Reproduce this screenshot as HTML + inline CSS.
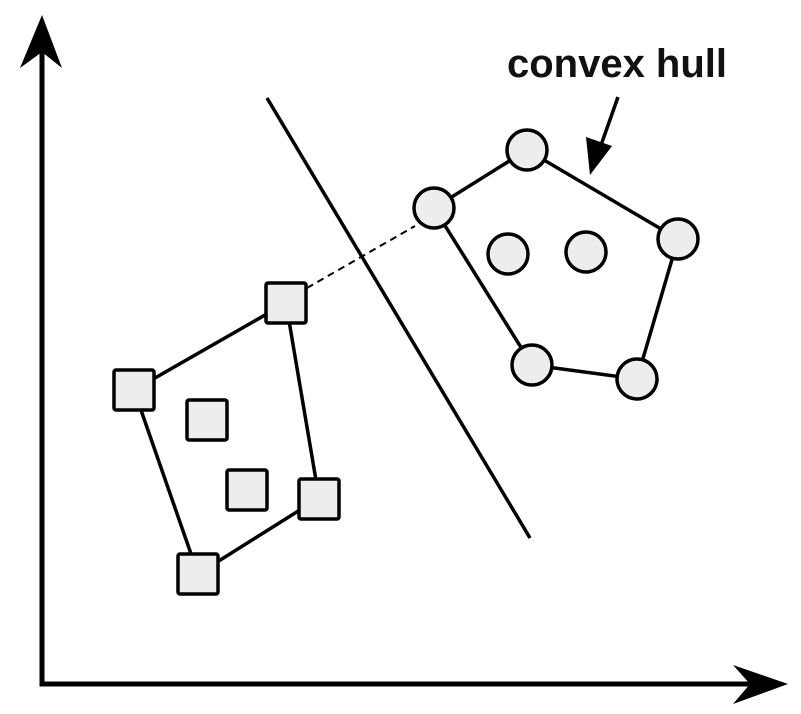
<!DOCTYPE html>
<html><head><meta charset="utf-8"><style>html,body{margin:0;padding:0;background:#fff}svg{display:block}</style></head>
<body>
<svg width="801" height="714" viewBox="0 0 801 714" xmlns="http://www.w3.org/2000/svg">
<g stroke="#000" fill="none" stroke-linecap="butt">
<polyline points="42,50 42,684 755,684" stroke-width="5"/>
<polygon points="42,15 62,68 42,52 20,68" fill="#000" stroke="none"/>
<polygon points="788,684 733,704 750,684 733,665" fill="#000" stroke="none"/>
<line x1="267" y1="98" x2="530" y2="538" stroke-width="3.5"/>
<line x1="307" y1="288" x2="415" y2="226" stroke-width="2" stroke-dasharray="7,5"/>
<line x1="618" y1="97" x2="600" y2="148" stroke-width="3.5"/>
<polygon points="590,175 586,137 612,146" fill="#000" stroke="none"/>
<polygon points="286,303 134,390 198,574 319,498" stroke-width="3.5"/>
<polygon points="527,150 434,208 532,365 637,379 678,239" stroke-width="3.5"/>
</g>
<g fill="#ededed" stroke="#000" stroke-width="3.5">
<rect x="266" y="283" width="40" height="40" rx="2"/>
<rect x="114" y="370" width="40" height="40" rx="2"/>
<rect x="187" y="400" width="40" height="40" rx="2"/>
<rect x="227" y="470" width="40" height="40" rx="2"/>
<rect x="299" y="479" width="40" height="40" rx="2"/>
<rect x="178" y="554" width="40" height="40" rx="2"/>
<circle cx="527" cy="150" r="20"/>
<circle cx="434" cy="208" r="20"/>
<circle cx="678" cy="239" r="20"/>
<circle cx="508" cy="254" r="20"/>
<circle cx="586" cy="252" r="20"/>
<circle cx="532" cy="365" r="20"/>
<circle cx="637" cy="379" r="20"/>
</g>
<text x="617" y="77" text-anchor="middle" font-family="Liberation Sans, sans-serif" font-weight="bold" font-size="40" fill="#111">convex hull</text>
</svg>
</body></html>
